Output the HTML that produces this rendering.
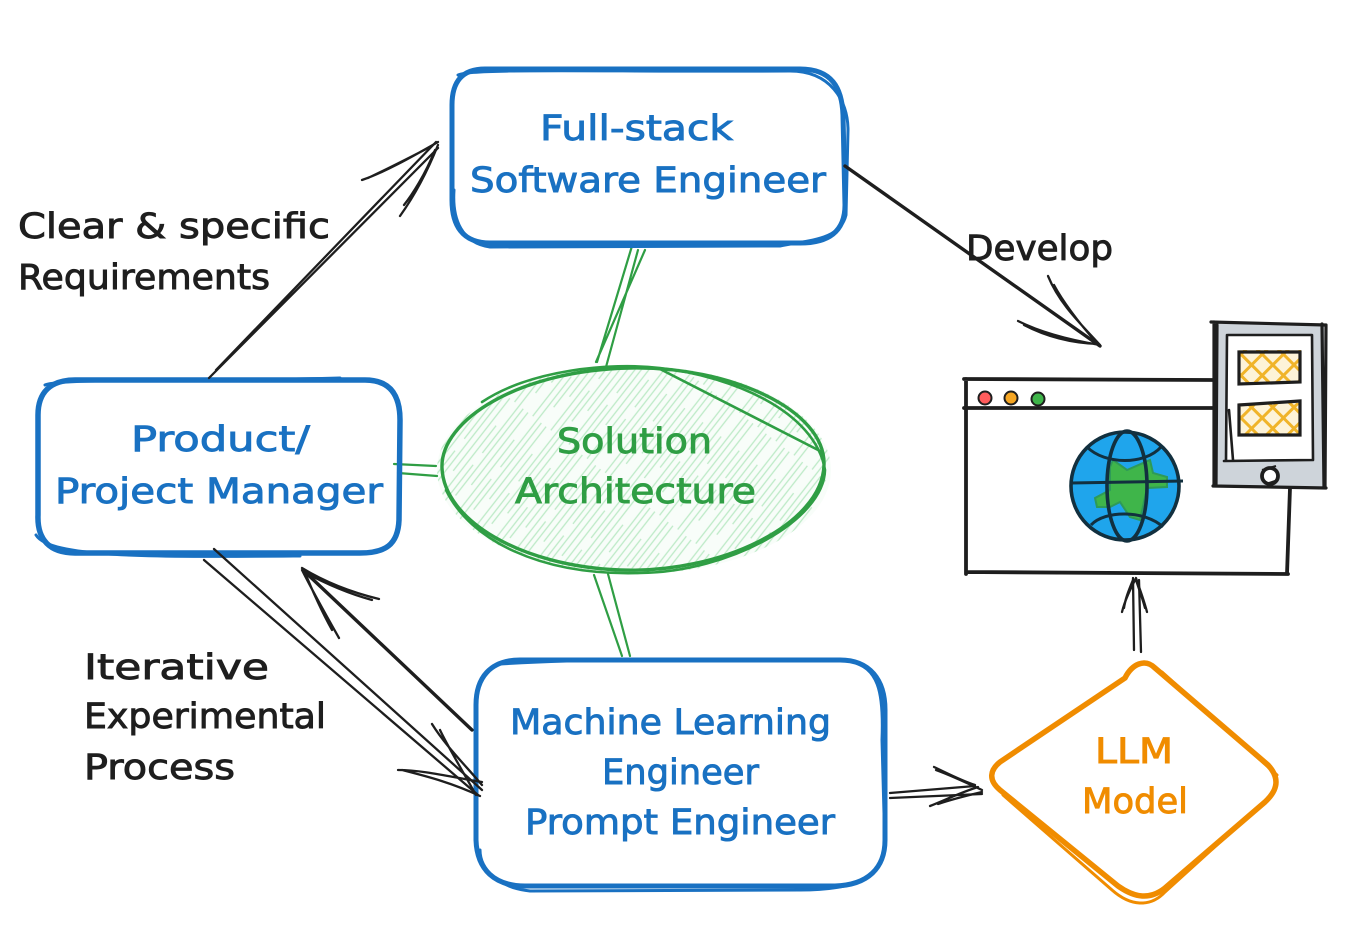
<!DOCTYPE html>
<html><head><meta charset="utf-8"><style>
html,body{margin:0;padding:0;background:#fff;width:1346px;height:946px;overflow:hidden}
svg{display:block}
text{font-family:"DejaVu Sans","Liberation Sans",sans-serif;font-size:35px;stroke-width:.9;paint-order:stroke}
.b{fill:#1971c2;stroke:#1971c2}.k{fill:#1e1e1e;stroke:#1e1e1e}.g{fill:#2f9e44;stroke:#2f9e44}.o{fill:#f08c00;stroke:#f08c00}
</style></head><body>
<svg width="1346" height="946" viewBox="0 0 1346 946" xmlns="http://www.w3.org/2000/svg">
<defs>
<pattern id="h" width="23" height="130" patternUnits="userSpaceOnUse" patternTransform="rotate(38)">
<rect width="23" height="130" fill="#f8fdf9"/><path d="M3 0V92M9 30V130M15 0V60M15 75V130M20 0V110" stroke="#bdeac7" stroke-width="1.3"/>
</pattern>
<pattern id="y" width="15" height="15" patternUnits="userSpaceOnUse" patternTransform="rotate(45)">
<rect width="15" height="15" fill="#fdf3d8"/><path d="M0 3H15M3 0V15" stroke="#f0b429" stroke-width="3"/>
</pattern>
<clipPath id="gc"><circle cx="1125" cy="486" r="54"/></clipPath>
</defs>

<!-- hatched ellipse -->
<ellipse cx="634" cy="470" rx="197" ry="104" fill="url(#h)"/>
<g fill="none" stroke="#2f9e44" stroke-linecap="round">
<path d="M442 468C440 420 520 370 630 368C730 366 826 410 824 465C822 525 720 574 620 570C520 566 444 520 442 468Z" stroke-width="3.4"/>
<path d="M482 402C530 370 610 362 660 368C730 376 815 410 825 470C824 520 730 572 640 573C540 576 470 540 446 490" stroke-width="2.6"/>
<path d="M660 369L822 452" stroke-width="2.6"/>
<path d="M638 250L606 367M645 250L596 362M632 246L597 362M394 464L436 466M398 473L437 476M594 575L622 656M608 574L630 656" stroke-width="2.2"/>
</g>

<!-- blue boxes -->
<g fill="none" stroke="#1971c2" stroke-linecap="round" stroke-linejoin="round">
<path d="M485 69H800C832 69 842 88 843 115L845 205C845 232 828 243 800 243H490C462 243 452 225 452 200V105C452 82 462 69 485 69Z" stroke-width="5"/>
<path d="M458 75C470 68 600 72 790 71C830 71 848 100 848 130L846 215C840 240 810 240 780 246L490 247C462 243 452 220 454 190" stroke-width="3"/>
<path d="M75 380H365C390 380 400 395 400 420L399 520C398 545 385 553 360 553H75C50 553 37 540 38 515V415C38 393 50 380 75 380Z" stroke-width="5.5"/>
<path d="M45 385C60 378 200 382 340 378M36 535C50 558 150 557 300 556" stroke-width="3"/>
<path d="M520 660H840C870 660 885 680 885 710V840C885 868 868 885 835 886H525C495 886 477 870 476 840V705C476 678 490 660 520 660Z" stroke-width="5"/>
<path d="M500 664C600 658 760 658 850 661C878 668 884 690 882 740L885 850C880 880 850 890 800 890L530 891C500 888 480 870 480 850" stroke-width="3"/>
</g>

<!-- diamond -->
<g fill="none" stroke="#f08c00" stroke-linecap="round" stroke-linejoin="round">
<path d="M1125 678C1132 664 1145 658 1155 668L1268 765C1280 778 1278 790 1265 802L1165 888C1150 900 1135 898 1118 886L1000 790C988 780 990 770 1000 762Z" stroke-width="5.5"/>
<path d="M1162 672L1277 775M1272 795L1165 892C1150 908 1130 906 1112 890L1003 795" stroke-width="3"/>
</g>

<!-- arrows -->
<g fill="none" stroke="#1e1e1e" stroke-linecap="round" stroke-linejoin="round" stroke-width="2.3">
<path d="M209 378L438 148M216 370L436 142"/>
<path d="M438 142C410 158 385 172 362 180M432 146C405 160 385 170 368 178M438 145C428 170 415 195 400 216M435 150C425 175 412 195 404 205"/>
<path d="M845 166L1100 346" stroke-width="3.4"/>
<path d="M1100 345C1070 340 1040 332 1018 321M1098 344C1070 343 1045 336 1024 325M1100 345C1082 325 1060 305 1048 276M1096 342C1078 322 1062 300 1054 285"/>
<path d="M204 560L478 795M214 549L482 790"/>
<path d="M482 782C455 778 425 770 398 770M480 796C450 782 425 776 402 770M482 785C465 765 445 745 432 724M476 795C462 770 447 745 440 730"/>
<path d="M472 730L303 570" stroke-width="3.4"/>
<path d="M302 568C325 582 350 592 379 599M304 572C328 585 350 594 372 600M302 570C312 590 326 615 339 638M304 570C312 590 322 612 332 630"/>
<path d="M890 793L975 786M890 798L982 794"/>
<path d="M975 785C960 780 945 772 934 767M982 790C965 782 950 775 936 770M978 787C962 792 945 800 930 806M982 792C965 796 950 800 938 804"/>
<path d="M1141 652L1139 580M1134 650L1133 578"/>
<path d="M1136 578C1130 590 1125 600 1122 612M1133 580C1128 592 1125 600 1124 608M1136 578C1140 590 1144 600 1147 612M1136 580C1140 592 1143 600 1145 608"/>
</g>

<!-- browser window -->
<g fill="none" stroke="#1e1e1e" stroke-linecap="round">
<path d="M964 379L1214 380M964 408H1214M966 379V574M966 572L1288 574M1290 488L1287 574" stroke-width="3.8"/>
</g>
<circle cx="985" cy="398" r="6.5" fill="#ff5c5c" stroke="#1e1e1e" stroke-width="2"/>
<circle cx="1011" cy="398" r="6.5" fill="#f5a623" stroke="#1e1e1e" stroke-width="2"/>
<circle cx="1038" cy="399" r="6.5" fill="#3fb54a" stroke="#1e1e1e" stroke-width="2"/>

<!-- globe -->
<circle cx="1125" cy="486" r="54" fill="#1fa5ec"/>
<path clip-path="url(#gc)" d="M1113 460L1127 470L1150 460L1153 473L1167 477L1167 487L1147 488L1140 520L1130 517L1120 502L1110 507L1097 507L1095 498L1110 490L1110 467Z" fill="#3fb54a" stroke="#2e9a58" stroke-width="2"/>
<g fill="none" stroke="#12303f" stroke-width="3.6">
<circle cx="1125" cy="486" r="54"/>
<ellipse cx="1127" cy="486" rx="20" ry="55"/>
<path d="M1071 483L1183 481" stroke-width="3"/>
<path d="M1087 447C1105 465 1145 465 1161 447M1091 525C1105 510 1145 510 1163 527" stroke-width="3"/>
</g>

<!-- tablet -->
<rect x="1214" y="324" width="110" height="163" fill="#ced4da"/>
<rect x="1227" y="336" width="85" height="124" fill="#fff"/>
<g fill="none" stroke="#1e1e1e" stroke-linecap="round">
<path d="M1211 322L1326 325M1214 322L1214 486M1217 325L1216 486M1322 324L1324 488M1326 325L1325 488M1213 486L1326 488" stroke-width="3.2"/>
<path d="M1228 335H1312M1227 335L1226 460M1312 335L1313 460M1224 461L1313 460M1229 410L1233 460" stroke-width="2.6"/>
</g>
<rect x="1239" y="350" width="62" height="33" fill="url(#y)"/>
<rect x="1239" y="403" width="62" height="33" fill="url(#y)"/>
<g fill="none" stroke="#1e1e1e" stroke-width="3.2">
<path d="M1239 352H1300V382L1239 384ZM1239 405L1300 401V435H1239Z"/>
<circle cx="1270" cy="476" r="8" fill="#fff" stroke-width="3.8"/>
<path d="M1262 470L1276 466M1266 484L1278 480" stroke-width="2"/>
</g>

<!-- text -->
<text class="b" x="540" y="140" textLength="193" lengthAdjust="spacingAndGlyphs">Full-stack</text>
<text class="b" x="470" y="192" textLength="356" lengthAdjust="spacingAndGlyphs">Software Engineer</text>
<text class="b" x="131" y="451" textLength="179" lengthAdjust="spacingAndGlyphs">Product/</text>
<text class="b" x="55" y="503" textLength="328" lengthAdjust="spacingAndGlyphs">Project Manager</text>
<text class="b" x="510" y="734" textLength="321" lengthAdjust="spacingAndGlyphs">Machine Learning</text>
<text class="b" x="602" y="784" textLength="157" lengthAdjust="spacingAndGlyphs">Engineer</text>
<text class="b" x="525" y="834" textLength="310" lengthAdjust="spacingAndGlyphs">Prompt Engineer</text>
<text class="g" x="557" y="453" textLength="155" lengthAdjust="spacingAndGlyphs">Solution</text>
<text class="g" x="515" y="503" textLength="241" lengthAdjust="spacingAndGlyphs">Architecture</text>
<text class="o" x="1095" y="763" textLength="78" lengthAdjust="spacingAndGlyphs">LLM</text>
<text class="o" x="1082" y="813" textLength="106" lengthAdjust="spacingAndGlyphs">Model</text>
<text class="k" x="18" y="238" textLength="312" lengthAdjust="spacingAndGlyphs">Clear &amp; specific</text>
<text class="k" x="18" y="289" textLength="252" lengthAdjust="spacingAndGlyphs">Requirements</text>
<text class="k" x="966" y="260" textLength="147" lengthAdjust="spacingAndGlyphs">Develop</text>
<text class="k" x="84" y="679" textLength="185" lengthAdjust="spacingAndGlyphs">Iterative</text>
<text class="k" x="84" y="728" textLength="242" lengthAdjust="spacingAndGlyphs">Experimental</text>
<text class="k" x="84" y="779" textLength="151" lengthAdjust="spacingAndGlyphs">Process</text>
</svg>
</body></html>
